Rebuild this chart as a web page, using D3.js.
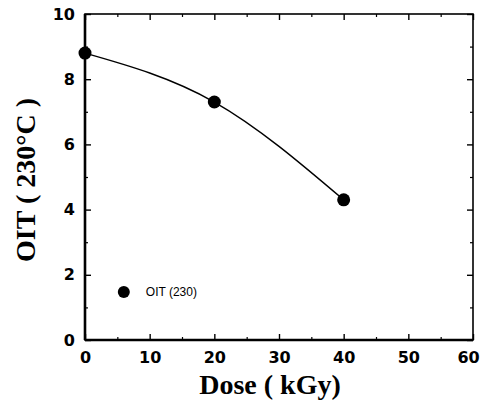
<!DOCTYPE html>
<html>
<head>
<meta charset="utf-8">
<script src="https://cdn.jsdelivr.net/npm/d3@7"></script>
<style>
  html, body { margin: 0; padding: 0; background: #fff; }
  svg { display: block; }
  .tick text { font-family: "DejaVu Sans", sans-serif; font-weight: bold; font-size: 16px; fill: #000; }
  .title { font-family: "Liberation Serif", "Times New Roman", serif; font-weight: bold; fill: #000; }
</style>
</head>
<body>
<svg id="chart" width="481" height="404"></svg>
<script>
// данные
const doses = [0, 20, 40];
const oitValues = [8.8, 7.3, 4.3];
const xTicks = [0, 10, 20, 30, 40, 50, 60];
const yTicks = [0, 2, 4, 6, 8, 10];
const seriesName = "OIT (230)";

const margin = { top: 14, right: 8, bottom: 64, left: 85 };
const W = 481, H = 404;
const width = W - margin.left - margin.right;
const height = H - margin.top - margin.bottom;

const svg = d3.select("#chart")
  .append("g")
  .attr("transform", `translate(${margin.left},${margin.top})`);

const x = d3.scaleLinear().domain([0, 60]).range([0, width]);
const y = d3.scaleLinear().domain([0, 10]).range([height, 0]);

// мелкие засечки (со всех сторон)
const xMinor = d3.range(5, 60, 10);
const yMinor = d3.range(1, 10, 2);
function minor(axis, vals, tr) {
  svg.append("g").attr("transform", tr)
    .call(axis.tickValues(vals).tickSize(-3).tickSizeOuter(0).tickFormat(""))
    .call(g => g.select(".domain").remove())
    .selectAll("line").attr("stroke", "#000").attr("stroke-width", 1.2);
}
minor(d3.axisBottom(x), xMinor, `translate(0,${height})`);
minor(d3.axisTop(x), xMinor, `translate(0,0)`);
minor(d3.axisLeft(y), yMinor, `translate(0,0)`);
minor(d3.axisRight(y), yMinor, `translate(${width},0)`);

// основные засечки
function major(axis, vals, tr, labels) {
  const g = svg.append("g").attr("transform", tr)
    .call(axis.tickValues(vals).tickSize(-6).tickSizeOuter(0).tickPadding(labels ? 10 : 0)
      .tickFormat(labels ? d3.format("d") : ""));
  g.select(".domain").remove();
  g.selectAll("line").attr("stroke", "#000").attr("stroke-width", 1.4);
  return g;
}
major(d3.axisBottom(x), xTicks, `translate(0,${height})`, true)
  .selectAll("text")
  .attr("dy", "0.8em")
  .attr("dx", d => d === 60 ? -5 : 0); // последняя подпись прижата к краю
major(d3.axisTop(x), xTicks, `translate(0,0)`, false);
major(d3.axisLeft(y), yTicks, `translate(0,0)`, true);
major(d3.axisRight(y), yTicks, `translate(${width},0)`, false);

// рамка
svg.append("rect")
  .attr("x", 0).attr("y", 0)
  .attr("width", width).attr("height", height)
  .attr("fill", "none").attr("stroke", "#000").attr("stroke-width", 1.6);
svg.append("line")
  .attr("x1", 0).attr("x2", 0).attr("y1", 0).attr("y2", height)
  .attr("stroke", "#000").attr("stroke-width", 2.6);
svg.append("line")
  .attr("x1", 0).attr("x2", width).attr("y1", height).attr("y2", height)
  .attr("stroke", "#000").attr("stroke-width", 2.4);

// линия
const pts = doses.map((d, i) => ({ dose: d, oit: oitValues[i] }));
svg.append("path")
  .datum(pts)
  .attr("fill", "none")
  .attr("stroke", "#000")
  .attr("stroke-width", 1.4)
  .attr("d", d3.line().x(d => x(d.dose)).y(d => y(d.oit)).curve(d3.curveNatural));

svg.selectAll("circle.pt")
  .data(pts)
  .enter().append("circle")
  .attr("class", "pt")
  .attr("cx", d => x(d.dose))
  .attr("cy", d => y(d.oit))
  .attr("r", 6.5)
  .attr("fill", "#000");

// легенда
const leg = svg.append("g").attr("transform", `translate(${x(6)},${y(1.47)})`);
leg.append("circle").attr("r", 6).attr("fill", "#000");
leg.append("text")
  .attr("x", 22).attr("y", 4)
  .style("font-family", "'Liberation Sans', Arial, sans-serif")
  .style("font-size", "12px")
  .text(seriesName);

// подписи осей
d3.select("#chart").append("text")
  .attr("class", "title")
  .attr("x", 270).attr("y", 394)
  .attr("text-anchor", "middle")
  .style("font-size", "28px")
  .text("Dose ( kGy)");

d3.select("#chart").append("text")
  .attr("class", "title")
  .attr("transform", "translate(35,180) rotate(-90)")
  .attr("text-anchor", "middle")
  .style("font-size", "28px")
  .text("OIT ( 230°C )");
</script>
</body>
</html>
